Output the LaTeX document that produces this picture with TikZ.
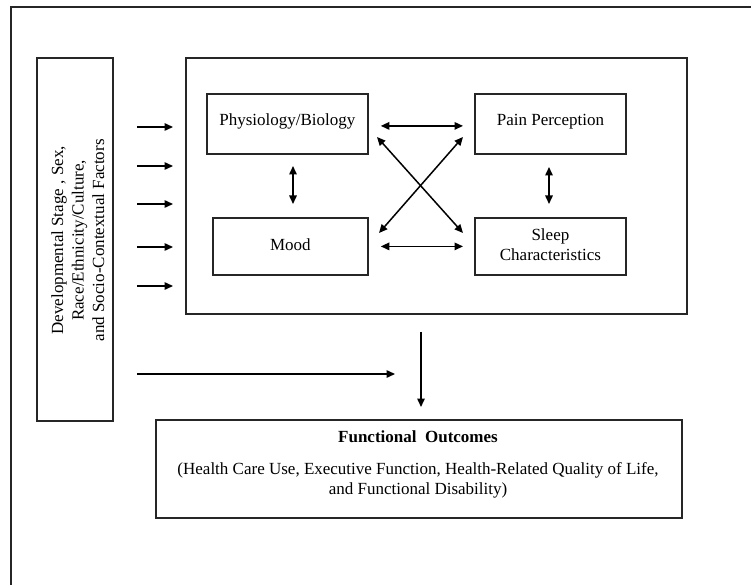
\documentclass[tikz,border=0pt]{standalone}
\usepackage{fontspec}
\setmainfont{Liberation Serif}
\usetikzlibrary{arrows.meta,calc}
\begin{document}
\begin{tikzpicture}[x=1pt,y=-1pt,
  box/.style={draw=black!85, line width=1.8pt, inner sep=0pt, anchor=north west},
  lbl/.style={font=\fontsize{17}{20.5}\selectfont, align=center, inner sep=0pt},
  arr/.style={line width=1.5pt, -{Triangle[length=8.5pt,width=7.5pt]}},
  dbl/.style={line width=1.5pt, {Triangle[length=8.5pt,width=7.5pt]}-{Triangle[length=8.5pt,width=7.5pt]}}]
\useasboundingbox (0,0) rectangle (751,585);
% outer frame (cropped)
\draw[line width=1.8pt, black!85] (11,585) -- (11,7) -- (751,7);
% boxes
\node[box, minimum width=76pt, minimum height=363pt] (demo) at (36,57) {};
\node[lbl, rotate=90] (demotxt) at ([xshift=3pt,yshift=-1pt]demo.center) {Developmental Stage , Sex,\\Race/Ethnicity/Culture,\\and Socio-Contextual Factors};
\node[box, minimum width=501pt, minimum height=256pt] (mid) at (185,57) {};
\node[box, minimum width=161pt, minimum height=60pt] (phys) at (206,93) {};
\node[lbl] (physt) at ([yshift=2pt]phys.center) {Physiology/Biology};
\node[box, minimum width=155pt, minimum height=57pt] (mood) at (212,217) {};
\node[lbl] (moodt) at ([yshift=1.5pt]mood.center) {Mood};
\node[box, minimum width=151pt, minimum height=60pt] (pain) at (474,93) {};
\node[lbl] (paint) at ([yshift=2pt]pain.center) {Pain Perception};
\node[box, minimum width=151pt, minimum height=57pt] (sleep) at (474,217) {};
\node[lbl] (sleept) at ([yshift=1.5pt]sleep.center) {Sleep\\Characteristics};
\node[box, minimum width=526pt, minimum height=98pt] (func) at (155,419) {};
\node[lbl, font=\fontsize{17}{20.5}\selectfont\bfseries] (funct) at (418,437) {Functional\ \ Outcomes};
\node[lbl] (funcb) at (418,480.5) {(Health Care Use, Executive Function, Health-Related Quality of Life,\\and Functional Disability)};
% inner arrows
\draw[dbl, shorten <=12pt, shorten >=11pt] ([yshift=-2pt]phys.east) -- ([yshift=-2pt]pain.west);
\draw[dbl, shorten <=12pt, shorten >=11pt] (mood.east) -- (mood.east -| sleep.west);
\draw[dbl, shorten <=13pt, shorten >=13pt] (293,153) coordinate (pm1) -- (pm1 |- mood.north);
\draw[dbl, shorten <=14pt, shorten >=13pt] (549,153) coordinate (ps1) -- (ps1 |- sleep.north);
\coordinate (d1a) at (377,137);
\coordinate (d1b) at (463,233);
\coordinate (d2a) at (463,137);
\coordinate (d2b) at (379,233);
\draw[dbl] (d1a) -- (d1b);
\draw[dbl] (d2a) -- (d2b);
% left arrows
\foreach \yy in {127,166,204,247,286}
  \draw[arr, shorten <=23pt, shorten >=12pt] (demo.east |- 0,\yy) -- (mid.west |- 0,\yy);
% bottom arrows
\coordinate (joint) at (421,374);
\draw[arr, shorten <=23pt, shorten >=26pt] (demo.east |- joint) -- (joint);
\draw[arr, shorten <=17pt, shorten >=12pt] (mid.south -| joint) -- (func.north -| joint);
\end{tikzpicture}
\end{document}
